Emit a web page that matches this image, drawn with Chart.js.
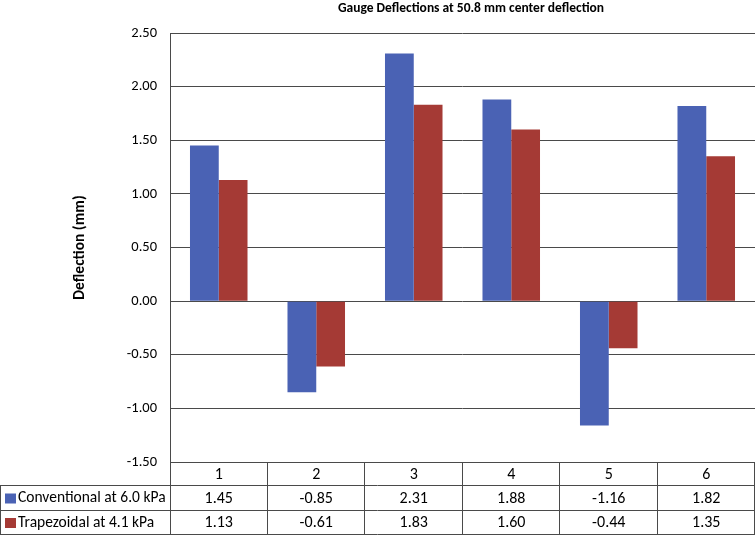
<!DOCTYPE html>
<html>
<head>
<meta charset="utf-8">
<script src="https://cdn.jsdelivr.net/npm/chart.js@4/dist/chart.umd.min.js"></script>
<style>
  html, body { margin: 0; padding: 0; background: #fff; }
  #wrap { width: 755px; height: 535px; position: relative; }
</style>
</head>
<body>
<div id="wrap"><canvas id="graph"></canvas></div>
<script>
const chartTitle = 'Gauge Deflections at 50.8 mm center deflection'
const gauges = ['1', '2', '3', '4', '5', '6']
const conventional = [1.45, -0.85, 2.31, 1.88, -1.16, 1.82]
const trapezoidal = [1.13, -0.61, 1.83, 1.60, -0.44, 1.35]
const seriesNames = ['Conventional at 6.0 kPa', 'Trapezoidal at 4.1 kPa']
const blue = '#4A62B4'
const red = '#A53A35'
const lineColor = '#4a4a4a'
const fontFamily = 'Calibri, Carlito, Lato, sans-serif'

// draws the title and the data table under the plot (Excel style)
const tablePlugin = {
  id: 'dataTable',
  afterDraw(chart) {
    const ctx = chart.ctx
    const area = chart.chartArea
    const x = chart.scales.x
    const W = chart.width
    const rows = [area.bottom, 485, 510, 534]

    ctx.save()
    ctx.strokeStyle = lineColor
    ctx.lineWidth = 1

    ctx.beginPath()
    // horizontal rules
    for (let i = 1; i < rows.length; i++) {
      ctx.moveTo(0, rows[i] + 0.5)
      ctx.lineTo(W, rows[i] + 0.5)
    }
    // left edge of the table
    ctx.moveTo(0.5, rows[1])
    ctx.lineTo(0.5, rows[3] + 1)
    // axis line down through the table
    ctx.moveTo(Math.round(area.left) + 0.5, area.top)
    ctx.lineTo(Math.round(area.left) + 0.5, rows[3] + 1)
    // column separators
    const step = (area.right - area.left) / gauges.length
    for (let i = 1; i <= gauges.length; i++) {
      const cx = Math.round(area.left + step * i) - 0.5
      ctx.moveTo(cx, rows[0])
      ctx.lineTo(cx, rows[3] + 1)
    }
    ctx.stroke()

    ctx.fillStyle = '#000'
    ctx.font = '16px ' + fontFamily
    ctx.textAlign = 'center'
    ctx.textBaseline = 'middle'
    gauges.forEach((g, i) => {
      const cx = x.getPixelForValue(i)
      ctx.fillText(g, cx, (rows[0] + rows[1]) / 2 + 1)
      ctx.fillText(conventional[i].toFixed(2), cx, (rows[1] + rows[2]) / 2 + 1)
      ctx.fillText(trapezoidal[i].toFixed(2), cx, (rows[2] + rows[3]) / 2 + 1)
    })

    // legend keys in the first column
    const colors = [blue, red]
    ctx.font = '15.5px ' + fontFamily
    seriesNames.forEach((name, i) => {
      const cy = (rows[i + 1] + rows[i + 2]) / 2 + 1
      ctx.fillStyle = colors[i]
      ctx.fillRect(5, cy - 5, 11, 10)
      ctx.fillStyle = '#000'
      ctx.textAlign = 'left'
      ctx.fillText(name, 18, cy)
    })

    // chart title
    ctx.font = 'bold 13.5px ' + fontFamily
    ctx.textAlign = 'center'
    ctx.fillText(chartTitle, 471, 9)
    ctx.restore()
  }
}

document.addEventListener('DOMContentLoaded', function () {
  new Chart(document.getElementById('graph'), {
    type: 'bar',
    data: {
      labels: gauges,
      datasets: [
        { label: seriesNames[0], data: conventional, backgroundColor: blue },
        { label: seriesNames[1], data: trapezoidal, backgroundColor: red }
      ]
    },
    options: {
      responsive: true,
      maintainAspectRatio: false,
      animation: false,
      layout: { padding: { top: 33, right: 0, left: 0, bottom: 0 } },
      datasets: { bar: { categoryPercentage: 0.59, barPercentage: 1.0 } },
      plugins: { legend: { display: false }, tooltip: { enabled: false }, title: { display: false } },
      scales: {
        x: {
          ticks: { display: false },
          grid: { display: false },
          border: { display: false },
          afterFit(scale) { scale.height = 73 }
        },
        y: {
          min: -1.5,
          max: 2.5,
          ticks: {
            stepSize: 0.5,
            padding: 13,
            color: '#000',
            font: { family: fontFamily, size: 14.5 },
            callback: v => v.toFixed(2)
          },
          grid: { color: lineColor, drawTicks: false },
          border: { display: false },
          title: {
            display: true,
            text: 'Deflection (mm)',
            color: '#000',
            font: { family: fontFamily, size: 15.5, weight: 'bold' },
            padding: { top: 71, bottom: 0 }
          },
          afterFit(scale) { scale.width = 170 }
        }
      }
    },
    plugins: [tablePlugin]
  })
})
</script>
</body>
</html>
